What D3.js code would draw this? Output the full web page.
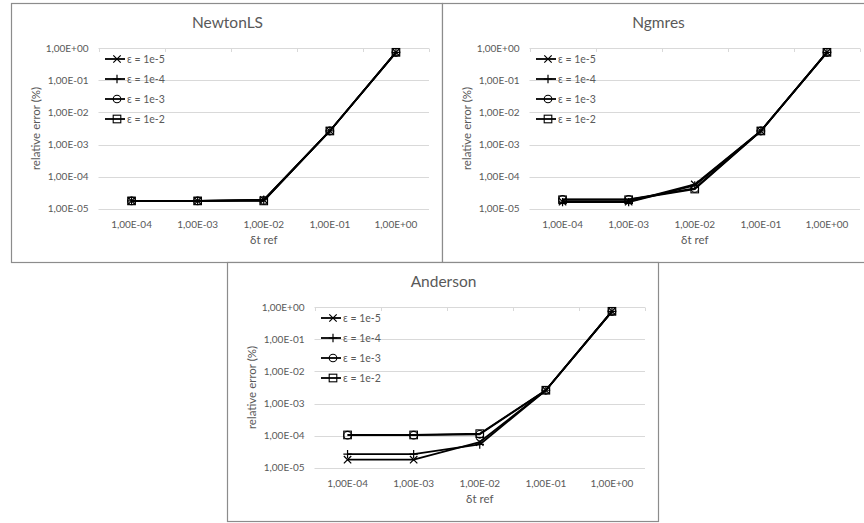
<!DOCTYPE html>
<html>
<head>
<meta charset="utf-8">
<script src="https://cdn.jsdelivr.net/npm/d3@7"></script>
<style>
  html, body { margin: 0; padding: 0; background: #fff; }
  svg { display: block; }
  text { font-family: Lato, "Open Sans", sans-serif; }
</style>
</head>
<body>
<svg id="chart" width="864" height="523"></svg>
<script>
// ---- data ----
const categories = ["1,00E-04", "1,00E-03", "1,00E-02", "1,00E-01", "1,00E+00"];
const seriesNames = ["ε = 1e-5", "ε = 1e-4", "ε = 1e-3", "ε = 1e-2"];
const yTicks = [1e-5, 1e-4, 1e-3, 1e-2, 1e-1, 1e0];

const newtonLS = [
  [1.75e-5, 1.75e-5, 1.9e-5, 2.65e-3, 0.75],
  [1.75e-5, 1.75e-5, 1.9e-5, 2.65e-3, 0.75],
  [1.75e-5, 1.75e-5, 1.8e-5, 2.65e-3, 0.75],
  [1.75e-5, 1.75e-5, 1.75e-5, 2.65e-3, 0.75]
];
const ngmres = [
  [1.65e-5, 1.65e-5, 5.7e-5, 2.65e-3, 0.75],
  [1.6e-5, 1.6e-5, 5.3e-5, 2.65e-3, 0.75],
  [1.95e-5, 1.95e-5, 4.3e-5, 2.65e-3, 0.75],
  [1.9e-5, 1.9e-5, 4.1e-5, 2.65e-3, 0.75]
];
const anderson = [
  [1.78e-5, 1.78e-5, 6.3e-5, 2.6e-3, 0.75],
  [2.65e-5, 2.65e-5, 5.3e-5, 2.6e-3, 0.75],
  [1.03e-4, 1.03e-4, 1.1e-4, 2.6e-3, 0.75],
  [1.05e-4, 1.05e-4, 1.15e-4, 2.6e-3, 0.75]
];

const panels = [
  { title: "NewtonLS", data: newtonLS, ox: 11, oy: 3 },
  { title: "Ngmres", data: ngmres, ox: 442, oy: 3 },
  { title: "Anderson", data: anderson, ox: 227, oy: 262 }
];

// ---- drawing ----
const svg = d3.select("#chart");
const W = 431, H = 259;
const textColor = "#595959";
const markerTypes = ["cross", "plus", "circle", "square"];

function drawMarker(g, type, x, y) {
  const s = 3.7;
  if (type === "cross") {
    g.append("path").attr("d", `M${x - s},${y - s}L${x + s},${y + s}M${x - s},${y + s}L${x + s},${y - s}`)
      .attr("stroke", "#000").attr("stroke-width", 1.2).attr("fill", "none");
  } else if (type === "plus") {
    g.append("path").attr("d", `M${x - s - 0.5},${y}L${x + s + 0.5},${y}M${x},${y - s - 0.5}L${x},${y + s + 0.5}`)
      .attr("stroke", "#000").attr("stroke-width", 1.2).attr("fill", "none");
  } else if (type === "circle") {
    g.append("circle").attr("cx", x).attr("cy", y).attr("r", 3.8)
      .attr("stroke", "#000").attr("stroke-width", 1.1).attr("fill", "none");
  } else {
    g.append("rect").attr("x", x - 3.8).attr("y", y - 3.8).attr("width", 7.6).attr("height", 7.6)
      .attr("stroke", "#000").attr("stroke-width", 1.1).attr("fill", "none");
  }
}

panels.forEach(p => {
  const g = svg.append("g").attr("transform", `translate(${p.ox},${p.oy})`);
  g.append("rect").attr("x", 0.5).attr("y", 0.5).attr("width", W).attr("height", H)
    .attr("fill", "#fff").attr("stroke", "#8c8c8c").attr("stroke-width", 1.2);

  const left = 87.5, right = 418, top = 45.3, bottom = 205.7;
  const x = d3.scaleBand().domain(categories).range([left, right]);
  const y = d3.scaleLog().domain([1e-5, 1e0]).range([bottom, top]);

  // title
  g.append("text").attr("x", W / 2 + 1).attr("y", 25)
    .attr("text-anchor", "middle").attr("font-size", 15.5).attr("fill", textColor).text(p.title);

  // gridlines
  g.append("g").selectAll("line").data(yTicks).join("line")
    .attr("x1", left).attr("x2", right)
    .attr("y1", d => Math.round(y(d)) + 0.5).attr("y2", d => Math.round(y(d)) + 0.5)
    .attr("stroke", "#d9d9d9").attr("stroke-width", 1);

  // small tick marks at category boundaries along the top gridline
  const bounds = categories.map(c => x(c)).concat([right]);
  g.append("g").selectAll("line").data(bounds).join("line")
    .attr("x1", d => Math.round(d) + 0.5).attr("x2", d => Math.round(d) + 0.5)
    .attr("y1", Math.round(y(1e0)) + 0.5).attr("y2", Math.round(y(1e0)) + 4)
    .attr("stroke", "#d9d9d9").attr("stroke-width", 1);

  // y axis labels
  const fmt = d => {
    const e = Math.round(Math.log10(d));
    return "1,00E" + (e >= 0 ? "+" : "-") + String(Math.abs(e)).padStart(2, "0");
  };
  const yAxis = d3.axisLeft(y).tickValues(yTicks).tickFormat(fmt).tickSize(0).tickPadding(10);
  const ya = g.append("g").attr("transform", `translate(${left},0)`).call(yAxis);
  ya.select(".domain").remove();
  ya.selectAll("text").attr("font-size", 10).attr("fill", textColor)
    .attr("font-family", "Lato, 'Open Sans', sans-serif");

  // x axis labels
  const xAxis = d3.axisBottom(x).tickSize(0).tickPadding(12);
  const xa = g.append("g").attr("transform", `translate(0,${bottom})`).call(xAxis);
  xa.select(".domain").remove();
  xa.selectAll("text").attr("font-size", 10).attr("fill", textColor)
    .attr("font-family", "Lato, 'Open Sans', sans-serif");

  // axis titles
  g.append("text").attr("x", (left + right) / 2).attr("y", 241)
    .attr("text-anchor", "middle").attr("font-size", 11.5).attr("fill", textColor).text("δt ref");
  g.append("text").attr("transform", `translate(29,${(top + bottom) / 2}) rotate(-90)`)
    .attr("text-anchor", "middle").attr("font-size", 11.5).attr("fill", textColor).text("relative error (%)");

  // series
  const line = d3.line().x((d, i) => x(categories[i]) + x.bandwidth() / 2).y(d => y(d));
  p.data.forEach((s, si) => {
    const sg = g.append("g");
    sg.append("path").attr("d", line(s)).attr("fill", "none")
      .attr("stroke", "#000").attr("stroke-width", 1.8).attr("stroke-linejoin", "round");
    s.forEach((v, i) => drawMarker(sg, markerTypes[si], x(categories[i]) + x.bandwidth() / 2, y(v)));
  });

  // legend
  const lg = g.append("g");
  seriesNames.forEach((name, i) => {
    const ly = 56 + i * 20;
    lg.append("line").attr("x1", 94).attr("x2", 114).attr("y1", ly).attr("y2", ly)
      .attr("stroke", "#000").attr("stroke-width", 1.8);
    drawMarker(lg, markerTypes[i], 106, ly);
    lg.append("text").attr("x", 116).attr("y", ly + 3.5).attr("font-size", 10.5)
      .attr("fill", textColor).text(name);
  });
});
</script>
</body>
</html>
